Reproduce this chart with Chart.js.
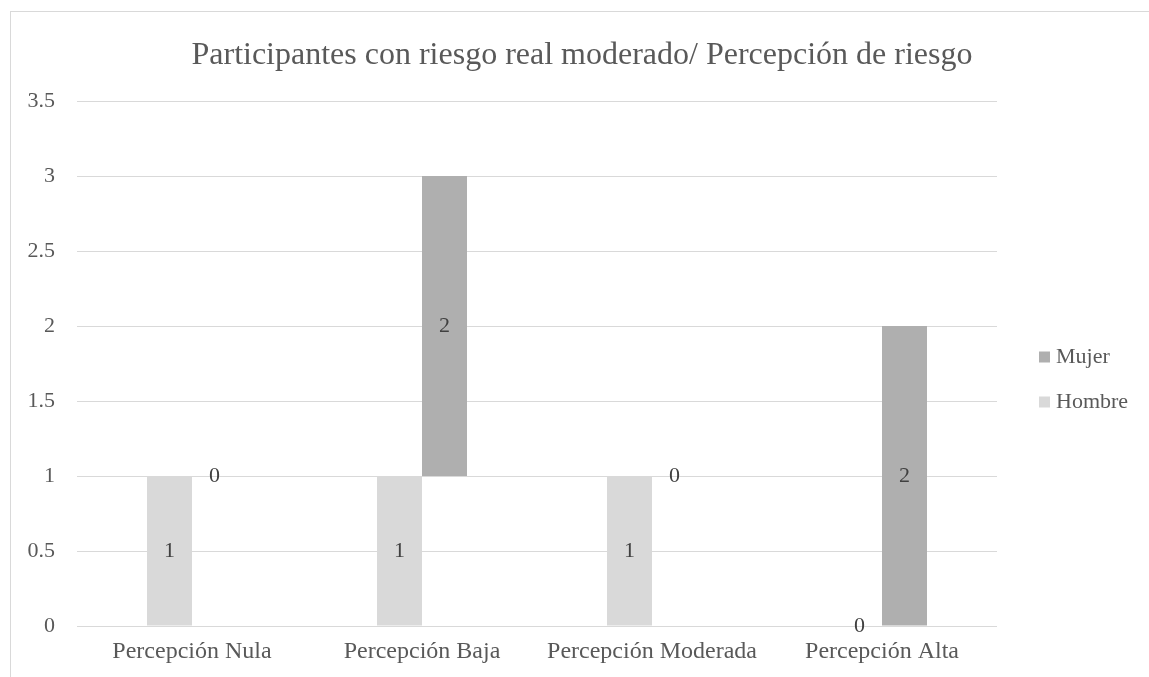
<!DOCTYPE html>
<html>
<head>
<meta charset="utf-8">
<script src="https://cdn.jsdelivr.net/npm/chart.js@4"></script>
<style>
  html, body { margin: 0; padding: 0; background: #fff; overflow: hidden; }
  #frame { position: absolute; left: 10px; top: 11px; width: 1200px; height: 700px; border: 1px solid #d9d9d9; }
  #wrap { position: absolute; left: 0; top: 0; width: 1149px; height: 677px; }
</style>
</head>
<body>
<div id="frame"></div>
<div id="wrap"><canvas id="chart"></canvas></div>
<script>
var titulo = 'Participantes con riesgo real moderado/ Percepción de riesgo';
var categorias = ['Percepción Nula', 'Percepción Baja', 'Percepción Moderada', 'Percepción Alta'];
var hombre = [1, 1, 1, 0];
var mujer = [0, 2, 0, 2];
var ticksY = [0, 0.5, 1, 1.5, 2, 2.5, 3, 3.5];

var fuente = 'Liberation Serif, Times New Roman, serif';

// barras flotantes: Mujer empieza donde termina Hombre (como el apilado de Excel, pero al lado)
var datosHombre = hombre.map(function (v) { return [0, v]; });
var datosMujer = mujer.map(function (v, i) { return [hombre[i], hombre[i] + v]; });
var valores = [hombre, mujer];

var etiquetas = {
  id: 'etiquetas',
  afterDatasetsDraw: function (chart) {
    var ctx = chart.ctx;
    ctx.save();
    ctx.font = '22px ' + fuente;
    ctx.fillStyle = '#404040';
    ctx.textAlign = 'center';
    ctx.textBaseline = 'middle';
    chart.data.datasets.forEach(function (ds, d) {
      chart.getDatasetMeta(d).data.forEach(function (bar, i) {
        ctx.fillText(String(valores[d][i]), bar.x, (bar.y + bar.base) / 2);
      });
    });
    ctx.restore();
  }
};

var tituloYLeyenda = {
  id: 'tituloYLeyenda',
  afterDraw: function (chart) {
    var ctx = chart.ctx;
    ctx.save();
    ctx.fillStyle = '#595959';
    ctx.textBaseline = 'middle';
    ctx.textAlign = 'center';
    ctx.font = '32px ' + fuente;
    ctx.fillText(titulo, 582, 56);

    // leyenda en orden inverso (Mujer arriba)
    ctx.textAlign = 'left';
    ctx.font = '22px ' + fuente;
    var orden = [1, 0];
    orden.forEach(function (d, k) {
      var ds = chart.data.datasets[d];
      var y = 357 + k * 45;
      ctx.fillStyle = ds.backgroundColor;
      ctx.fillRect(1039, y - 5.5, 11, 11);
      ctx.fillStyle = '#595959';
      ctx.fillText(ds.label, 1056, y);
    });
    ctx.restore();
  }
};

new Chart(document.getElementById('chart'), {
  type: 'bar',
  data: {
    labels: categorias,
    datasets: [
      { label: 'Hombre', data: datosHombre, backgroundColor: '#d9d9d9' },
      { label: 'Mujer', data: datosMujer, backgroundColor: '#afafaf' }
    ]
  },
  options: {
    responsive: true,
    maintainAspectRatio: false,
    animation: false,
    categoryPercentage: 0.3913,
    barPercentage: 1,
    layout: { padding: { left: 10, right: 152, top: 101, bottom: 11 } },
    plugins: {
      legend: { display: false },
      title: { display: false },
      tooltip: { enabled: false }
    },
    scales: {
      x: {
        grid: { display: false, drawTicks: false },
        border: { display: false },
        ticks: { color: '#595959', font: { family: fuente, size: 24 }, padding: 11 },
        afterFit: function (s) { s.height = 40; }
      },
      y: {
        min: 0,
        max: 3.5,
        afterBuildTicks: function (s) { s.ticks = ticksY.map(function (v) { return { value: v }; }); },
        grid: { color: '#d9d9d9', drawTicks: false },
        border: { display: false },
        ticks: {
          color: '#595959',
          font: { family: fuente, size: 22 },
          padding: 22,
          callback: function (v) { return String(v); }
        },
        afterFit: function (s) { s.width = 67; }
      }
    }
  },
  plugins: [etiquetas, tituloYLeyenda]
});
</script>
</body>
</html>
